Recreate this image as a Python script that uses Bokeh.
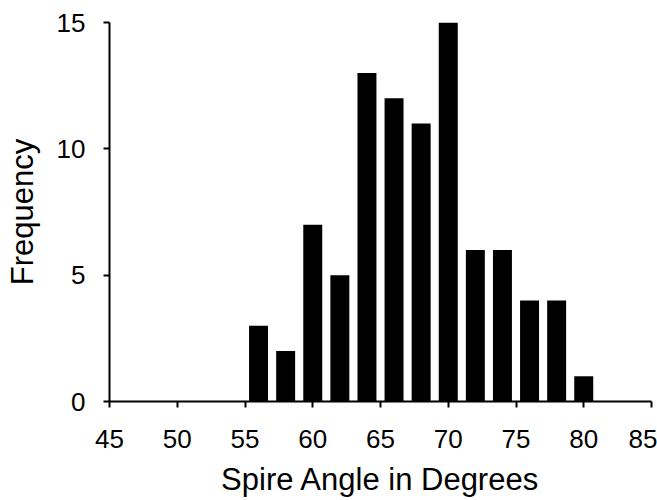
from bokeh.plotting import figure
from bokeh.models import ColumnDataSource, Range1d, FixedTicker
from bokeh.embed import file_html
from bokeh.resources import INLINE

angles = [56, 58, 60, 62, 64, 66, 68, 70, 72, 74, 76, 78, 80]
counts = [3, 2, 7, 5, 13, 12, 11, 15, 6, 6, 4, 4, 1]
x_ticks = [45, 50, 55, 60, 65, 70, 75, 80, 85]
y_ticks = [0, 5, 10, 15]
x_title = "Spire Angle in Degrees"
y_title = "Frequency"

src = ColumnDataSource(dict(x=angles, top=counts))

p = figure(width=657, height=500, output_backend="svg", toolbar_location=None,
           x_range=Range1d(45, 85), y_range=Range1d(0, 15),
           min_border_left=109, min_border_right=6, min_border_top=22, min_border_bottom=99)
p.vbar(x="x", top="top", bottom=0, width=1.4, source=src, fill_color="black", line_color=None)

p.outline_line_color = None
p.xgrid.visible = False
p.ygrid.visible = False
p.background_fill_color = "white"
p.border_fill_color = "white"

p.xaxis.ticker = FixedTicker(ticks=x_ticks)
p.yaxis.ticker = FixedTicker(ticks=y_ticks)
p.xaxis.axis_label = x_title
p.yaxis.axis_label = y_title

for ax in (p.xaxis[0], p.yaxis[0]):
    ax.axis_line_width = 2
    ax.axis_line_color = "black"
    ax.major_tick_line_width = 2
    ax.major_tick_line_color = "black"
    ax.major_tick_in = 0
    ax.major_tick_out = 6
    ax.minor_tick_line_color = None
    ax.major_label_text_font = "Liberation Sans"
    ax.major_label_text_font_size = "26px"
    ax.major_label_text_color = "black"
    ax.axis_label_text_font = "Liberation Sans"
    ax.axis_label_text_font_size = "31px"
    ax.axis_label_text_font_style = "normal"
    ax.axis_label_text_color = "black"

p.xaxis.major_label_standoff = 22
p.xaxis.axis_label_standoff = 11
p.yaxis.major_label_standoff = 18
p.yaxis.axis_label_standoff = 14

open("out.html", "w").write(file_html(p, INLINE))
